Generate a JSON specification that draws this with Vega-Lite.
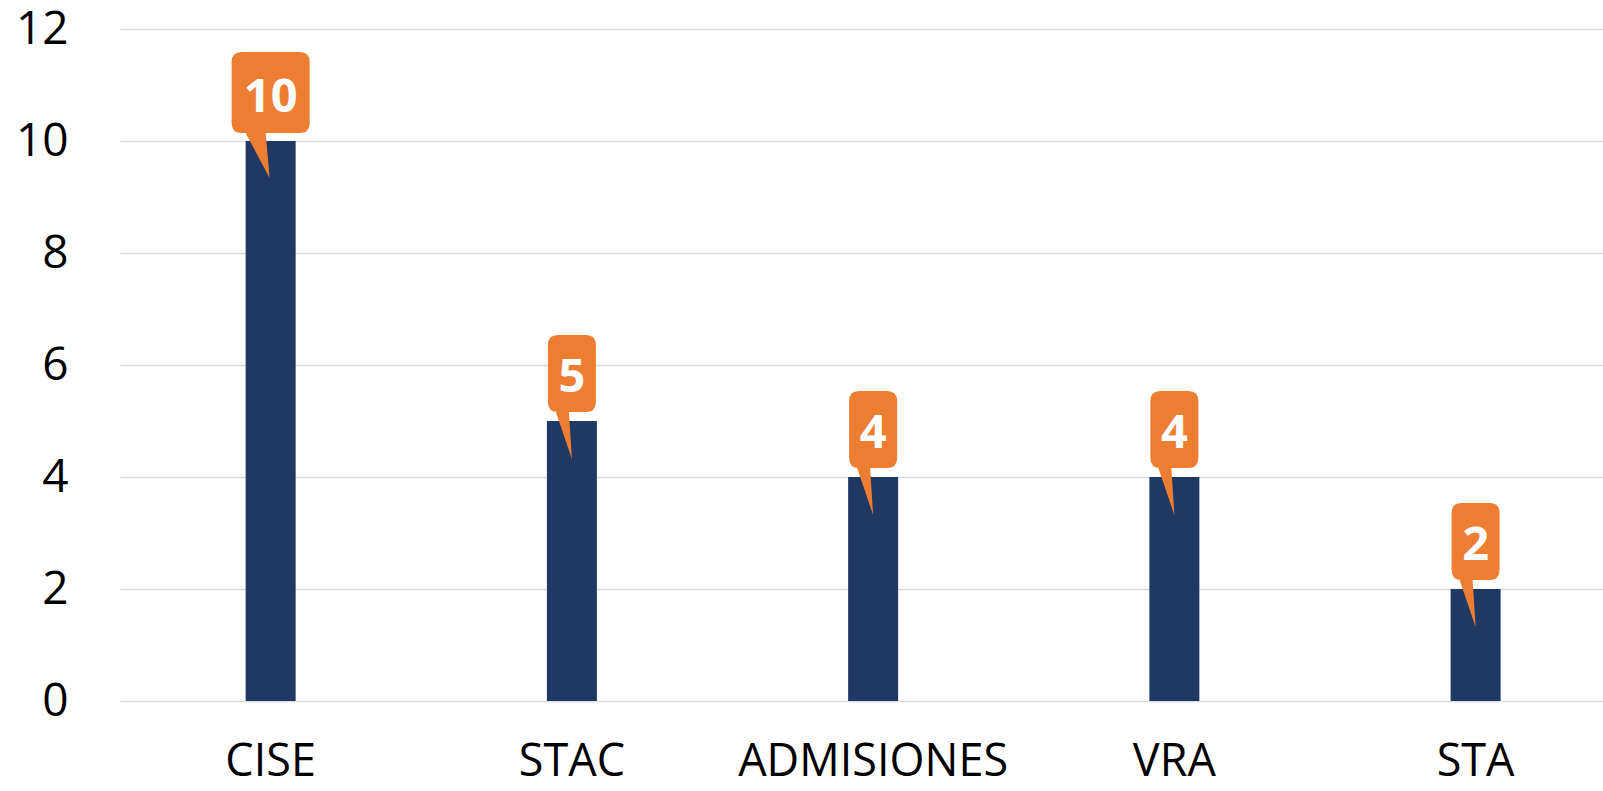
{
  "$schema": "https://vega.github.io/schema/vega-lite/v6.json",
  "autosize": {"type": "none"},
  "width": 1483,
  "height": 672,
  "padding": {"left": 120, "top": 29, "right": 0, "bottom": 90},
  "background": "#ffffff",
  "config": {"view": {"stroke": null}},
  "data": {"values": [
    {"area": "CISE", "count": 10},
    {"area": "STAC", "count": 5},
    {"area": "ADMISIONES", "count": 4},
    {"area": "VRA", "count": 4},
    {"area": "STA", "count": 2}
  ]},
  "encoding": {
    "x": {"field": "area", "type": "nominal", "sort": null, "title": null,
      "scale": {"paddingInner": 0.834, "paddingOuter": 0.3785, "align": 0.551},
      "axis": {"domain": false, "ticks": false, "labelAngle": 0, "labelFont": "Open Sans", "labelFontSize": 45, "labelColor": "#000000", "labelPadding": 38, "labelBaseline": "top", "labelLimit": 0}},
    "y": {"field": "count", "type": "quantitative", "title": null,
      "scale": {"domain": [0, 12], "nice": false},
      "axis": {"values": [0, 2, 4, 6, 8, 10, 12], "domain": false, "ticks": false, "labelFont": "Open Sans", "labelFontSize": 46, "labelColor": "#000000", "labelPadding": 52, "gridColor": "#d9d9d9", "gridWidth": 1.7}}
  },
  "layer": [
    {"mark": {"type": "bar", "color": "#203864"}},
    {"mark": {"type": "point", "filled": true, "opacity": 1, "size": 40000, "color": "#ED7D31", "strokeWidth": 0},
     "encoding": {
       "shape": {
         "condition": {"test": "datum.count >= 10", "value": "M -0.29 -0.89 L 0.29 -0.89 Q 0.39 -0.89 0.39 -0.79 L 0.39 -0.18 Q 0.39 -0.08 0.29 -0.08 L -0.05 -0.08 L -0.01 0.37 L -0.25 -0.08 L -0.29 -0.08 Q -0.39 -0.08 -0.39 -0.18 L -0.39 -0.79 Q -0.39 -0.89 -0.29 -0.89 Z"},
         "value": "M -0.14 -0.86 L 0.14 -0.86 Q 0.24 -0.86 0.24 -0.76 L 0.24 -0.19 Q 0.24 -0.09 0.14 -0.09 L -0.03 -0.09 L 0 0.38 L -0.16 -0.09 L -0.14 -0.09 Q -0.24 -0.09 -0.24 -0.19 L -0.24 -0.76 Q -0.24 -0.86 -0.14 -0.86 Z"
       }
     }},
    {"mark": {"type": "text", "font": "Open Sans", "fontWeight": "bold", "fontSize": 47, "color": "#ffffff", "baseline": "alphabetic", "align": "center", "dy": -29},
     "encoding": {"text": {"field": "count", "type": "quantitative"}}}
  ]
}
